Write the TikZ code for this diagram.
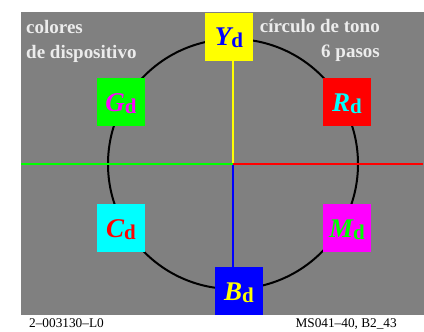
\documentclass[tikz,border=0pt]{standalone}
\usepackage{fontspec}
\setmainfont{Liberation Serif}
\usepackage{tikz}

\definecolor{bggray}{RGB}{128,128,128}
\definecolor{txtgray}{RGB}{236,236,236}
\definecolor{devR}{RGB}{255,0,0}
\definecolor{devY}{RGB}{255,255,0}
\definecolor{devG}{RGB}{0,255,0}
\definecolor{devC}{RGB}{0,255,255}
\definecolor{devB}{RGB}{0,0,255}
\definecolor{devM}{RGB}{255,0,255}

\newcommand{\devname}[1]{{\fontsize{27}{27}\selectfont\bfseries\itshape #1}\raisebox{-2pt}{\fontsize{21}{21}\selectfont\bfseries d}}

\tikzset{
  huebox/.style={inner sep=0pt, minimum width=48pt, minimum height=48pt, text height=18pt, text depth=0pt},
  head/.style={text=txtgray, font=\fontsize{19}{19}\selectfont\bfseries, inner sep=0pt},
  foot/.style={font=\fontsize{13.3}{13.3}\selectfont, inner sep=0pt},
  axis/.style={line width=2.4pt}
}

\begin{document}
\begin{tikzpicture}[x=1pt,y=-1pt]
  \useasboundingbox (0,0) rectangle (424,332);
  \fill[bggray] (21,12) rectangle (424,315);

  \coordinate (c) at (233,164);
  \coordinate (w) at (21,164);
  \coordinate (e) at (423,164);
  \draw[line width=2pt] (c) circle [radius=125];

  \node[huebox, fill=devY, text=devB] (Y) at (229,36.5) {\devname{Y}};
  \node[huebox, fill=devG, text=devM] (G) at (121,102)  {\devname{G}};
  \node[huebox, fill=devR, text=devC] (R) at (347,102)  {\devname{R}};
  \node[huebox, fill=devC, text=devR] (C) at (121,228)  {\devname{C}};
  \node[huebox, fill=devM, text=devG] (M) at (347,228)  {\devname{M}};
  \node[huebox, fill=devB, text=devY] (B) at (239,291)  {\devname{B}};

  \draw[axis, devY] (Y.south -| c) -- (c);
  \draw[axis, devB] (c) -- (B.north -| c);
  \draw[axis, devG] (w) -- (c);
  \draw[axis, devR] (c) -- (e);

  \node[head, anchor=base west] (t1) at (26,34)  {colores};
  \node[head, anchor=base west] (t2) at (26,59)  {de dispositivo};
  \node[head, anchor=base east] (t3) at (380,33) {círculo de tono};
  \node[head, anchor=base east] (t4) at (380,57) {6 pasos};

  \node[foot, anchor=base west] (f1) at (29,327)  {2–003130–L0};
  \node[foot, anchor=base east] (f2) at (397,327) {MS041–40, B2\_43};
\end{tikzpicture}
\end{document}
